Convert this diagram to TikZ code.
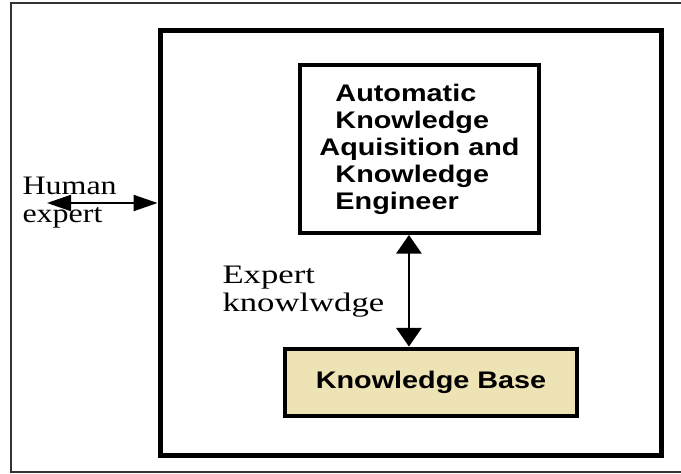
\documentclass[tikz,border=0pt]{standalone}
\usepackage{fontspec}
\setmainfont{Liberation Serif}
\setsansfont{Liberation Sans}
\usepackage{graphicx}
\usetikzlibrary{arrows.meta,calc}

\definecolor{kbtan}{RGB}{238,227,180}
\newcommand{\wide}[2][1.2]{\scalebox{#1}[1]{#2}}

\begin{document}
\begin{tikzpicture}[>={Triangle[length=14pt,width=19pt]}, thick,
    box/.style={draw, line width=3pt, inner sep=0pt,
        font=\sffamily\bfseries\fontsize{18}{20.25}\selectfont},
    lbl/.style={inner sep=0pt, anchor=west, align=left,
        font=\fontsize{20}{21}\selectfont}]
    \useasboundingbox (0,0) rectangle (510.75pt,-355.5pt);

    % Page frame, open on the right
    \draw[line width=0.8pt, black!80] (515pt,-2.25pt) -- (8.25pt,-2.25pt)
        -- (8.25pt,-354pt) -- (515pt,-354pt);

    % System boundary
    \node[draw, line width=3.75pt, inner sep=0pt, minimum width=375.75pt,
        minimum height=319.1pt] (sys) at (307.9pt,-182.4pt) {};

    % Acquisition box
    \node[box, align=left, minimum width=179.25pt, minimum height=126pt]
        (akq) at (314.6pt,-111.75pt)
        {\hspace*{12pt}\wide{Automatic}\\
         \hspace*{12pt}\wide{Knowledge}\\
         \wide{Aquisition and}\\
         \hspace*{12pt}\wide{Knowledge}\\
         \hspace*{12pt}\wide{Engineer}};

    % Knowledge base
    \node[box, fill=kbtan, minimum width=219pt, minimum height=50.6pt]
        (kb) at (323.25pt,-286.7pt) {\wide{Knowledge Base}};

    % Human expert
    \coordinate (hum) at (35.25pt,-152.25pt);
    \node[lbl] (human) at (16.5pt,-152.25pt) {\wide{Human}\\\wide{expert}};
    \draw[<->, line width=1.5pt, >={Triangle[length=18pt,width=12pt]}]
        (hum) -- (hum -| sys.west);

    % Expert knowledge link
    \node[lbl] (expk) at (166.5pt,-219pt)
        {\wide[1.3]{Expert}\\\wide[1.3]{knowlwdge}};
    \draw[<->, line width=1.5pt] ([xshift=-7.9pt]akq.south)
        -- ([xshift=-7.9pt]akq.south |- kb.north);
\end{tikzpicture}
\end{document}
